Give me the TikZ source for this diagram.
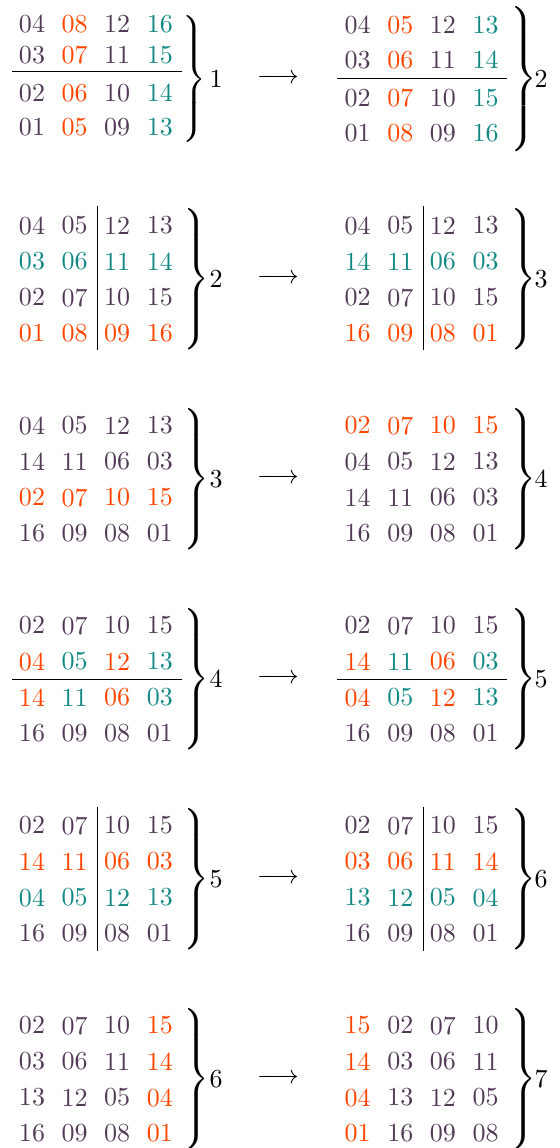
\documentclass[tikz,border=0pt]{standalone}
\usepackage{xcolor}
\usepackage{graphicx}
\definecolor{pur}{RGB}{80,58,84}
\definecolor{org}{RGB}{255,69,0}
\definecolor{tea}{RGB}{17,136,132}
\delimiterfactor=1000
\delimitershortfall=0pt
\tikzset{
  num/.style={inner sep=0pt, text=pur},
  bracebox/.style={anchor=west, inner sep=0pt, text=black},
  lbl/.style={inner sep=0pt, text=black},
  rulel/.style={line width=0.35pt, black},
}
\newcommand\mrow[4]{%
  \foreach \c/\n [count=\i] in {#4} {
    \node[num, text=\c] (#1-\i) at ({#2+(\i-1)*42.6}, #3) {\n};
  }}
\newcommand\rbr[4]{%
  \node[bracebox] (#1) at (#2,#3) {\resizebox*{!}{#4pt}{$\left.\vcenter{\hbox{\rule{0pt}{46pt}}}\right\}$}};}
\begin{document}
\begin{tikzpicture}[x=0.3846pt, y=-0.3846pt]
\useasboundingbox (0,0) rectangle (560,1148);
% ---------------- block 1
\mrow{a1}{32}{24}{pur/04,org/08,pur/12,tea/16}
\mrow{a2}{32}{55}{pur/03,org/07,pur/11,tea/15}
\mrow{a3}{32}{92.7}{pur/02,org/06,pur/10,tea/14}
\mrow{a4}{32}{127}{pur/01,org/05,pur/09,tea/13}
\draw[rulel] (12,71.7) -- (182,71.7);
\rbr{ba}{179}{79}{49.2}
\node[lbl] (la) at (216,79) {1};
\node[lbl] (ara) at (278,79) {$\longrightarrow$};
\mrow{b1}{357.7}{24.7}{pur/04,org/05,pur/12,tea/13}
\mrow{b2}{357.7}{60}{pur/03,org/06,pur/11,tea/14}
\mrow{b3}{357.7}{97.7}{pur/02,org/07,pur/10,tea/15}
\mrow{b4}{357.7}{133}{pur/01,org/08,pur/09,tea/16}
\draw[rulel] (337,78.3) -- (507,78.3);
\rbr{bb}{506}{79}{55.8}
\node[lbl] (lb) at (541,79) {2};
% ---------------- block 2
\mrow{c1}{32}{225.5}{pur/04,pur/05,pur/12,pur/13}
\mrow{c2}{32}{261.5}{tea/03,tea/06,tea/11,tea/14}
\mrow{c3}{32}{297.5}{pur/02,pur/07,pur/10,pur/15}
\mrow{c4}{32}{333.5}{org/01,org/08,org/09,org/16}
\draw[rulel] (97,206) -- (97,350);
\rbr{bc}{179}{279}{54.2}
\node[lbl] (lc) at (216,279) {2};
\node[lbl] (arc) at (278,279) {$\longrightarrow$};
\mrow{d1}{357.7}{225.5}{pur/04,pur/05,pur/12,pur/13}
\mrow{d2}{357.7}{261.5}{tea/14,tea/11,tea/06,tea/03}
\mrow{d3}{357.7}{297.5}{pur/02,pur/07,pur/10,pur/15}
\mrow{d4}{357.7}{333.5}{org/16,org/09,org/08,org/01}
\draw[rulel] (423,206) -- (423,350);
\rbr{bd}{506}{279}{54.2}
\node[lbl] (ld) at (541,279) {3};
% ---------------- block 3
\mrow{e1}{32}{425.5}{pur/04,pur/05,pur/12,pur/13}
\mrow{e2}{32}{461.5}{pur/14,pur/11,pur/06,pur/03}
\mrow{e3}{32}{497.5}{org/02,org/07,org/10,org/15}
\mrow{e4}{32}{533.5}{pur/16,pur/09,pur/08,pur/01}
\rbr{be}{179}{479}{54.2}
\node[lbl] (le) at (216,479) {3};
\node[lbl] (are) at (278,479) {$\longrightarrow$};
\mrow{f1}{357.7}{425.5}{org/02,org/07,org/10,org/15}
\mrow{f2}{357.7}{461.5}{pur/04,pur/05,pur/12,pur/13}
\mrow{f3}{357.7}{497.5}{pur/14,pur/11,pur/06,pur/03}
\mrow{f4}{357.7}{533.5}{pur/16,pur/09,pur/08,pur/01}
\rbr{bf}{506}{479}{54.2}
\node[lbl] (lf) at (541,479) {4};
% ---------------- block 4
\mrow{g1}{32}{625.5}{pur/02,pur/07,pur/10,pur/15}
\mrow{g2}{32}{661.5}{org/04,tea/05,org/12,tea/13}
\mrow{g3}{32}{697.5}{org/14,tea/11,org/06,tea/03}
\mrow{g4}{32}{733.5}{pur/16,pur/09,pur/08,pur/01}
\draw[rulel] (12,679.5) -- (182,679.5);
\rbr{bg}{179}{679}{54.2}
\node[lbl] (lg) at (216,679) {4};
\node[lbl] (arg) at (278,679) {$\longrightarrow$};
\mrow{h1}{357.7}{625.5}{pur/02,pur/07,pur/10,pur/15}
\mrow{h2}{357.7}{661.5}{org/14,tea/11,org/06,tea/03}
\mrow{h3}{357.7}{697.5}{org/04,tea/05,org/12,tea/13}
\mrow{h4}{357.7}{733.5}{pur/16,pur/09,pur/08,pur/01}
\draw[rulel] (337,679.5) -- (507,679.5);
\rbr{bh}{506}{679}{54.2}
\node[lbl] (lh) at (541,679) {5};
% ---------------- block 5
\mrow{i1}{32}{825.5}{pur/02,pur/07,pur/10,pur/15}
\mrow{i2}{32}{861.5}{org/14,org/11,org/06,org/03}
\mrow{i3}{32}{897.5}{tea/04,tea/05,tea/12,tea/13}
\mrow{i4}{32}{933.5}{pur/16,pur/09,pur/08,pur/01}
\draw[rulel] (97,807) -- (97,951);
\rbr{bi}{179}{879}{54.2}
\node[lbl] (li) at (216,879) {5};
\node[lbl] (ari) at (278,879) {$\longrightarrow$};
\mrow{j1}{357.7}{825.5}{pur/02,pur/07,pur/10,pur/15}
\mrow{j2}{357.7}{861.5}{org/03,org/06,org/11,org/14}
\mrow{j3}{357.7}{897.5}{tea/13,tea/12,tea/05,tea/04}
\mrow{j4}{357.7}{933.5}{pur/16,pur/09,pur/08,pur/01}
\draw[rulel] (423,807) -- (423,951);
\rbr{bj}{506}{879}{54.2}
\node[lbl] (lj) at (541,879) {6};
% ---------------- block 6
\mrow{k1}{32}{1025.5}{pur/02,pur/07,pur/10,org/15}
\mrow{k2}{32}{1061.5}{pur/03,pur/06,pur/11,org/14}
\mrow{k3}{32}{1097.5}{pur/13,pur/12,pur/05,org/04}
\mrow{k4}{32}{1133.5}{pur/16,pur/09,pur/08,org/01}
\rbr{bk}{179}{1079}{54.2}
\node[lbl] (lk) at (216,1079) {6};
\node[lbl] (ark) at (278,1079) {$\longrightarrow$};
\mrow{m1}{357.7}{1025.5}{org/15,pur/02,pur/07,pur/10}
\mrow{m2}{357.7}{1061.5}{org/14,pur/03,pur/06,pur/11}
\mrow{m3}{357.7}{1097.5}{org/04,pur/13,pur/12,pur/05}
\mrow{m4}{357.7}{1133.5}{org/01,pur/16,pur/09,pur/08}
\rbr{bm}{506}{1079}{54.2}
\node[lbl] (lm) at (541,1079) {7};
\end{tikzpicture}
\end{document}
